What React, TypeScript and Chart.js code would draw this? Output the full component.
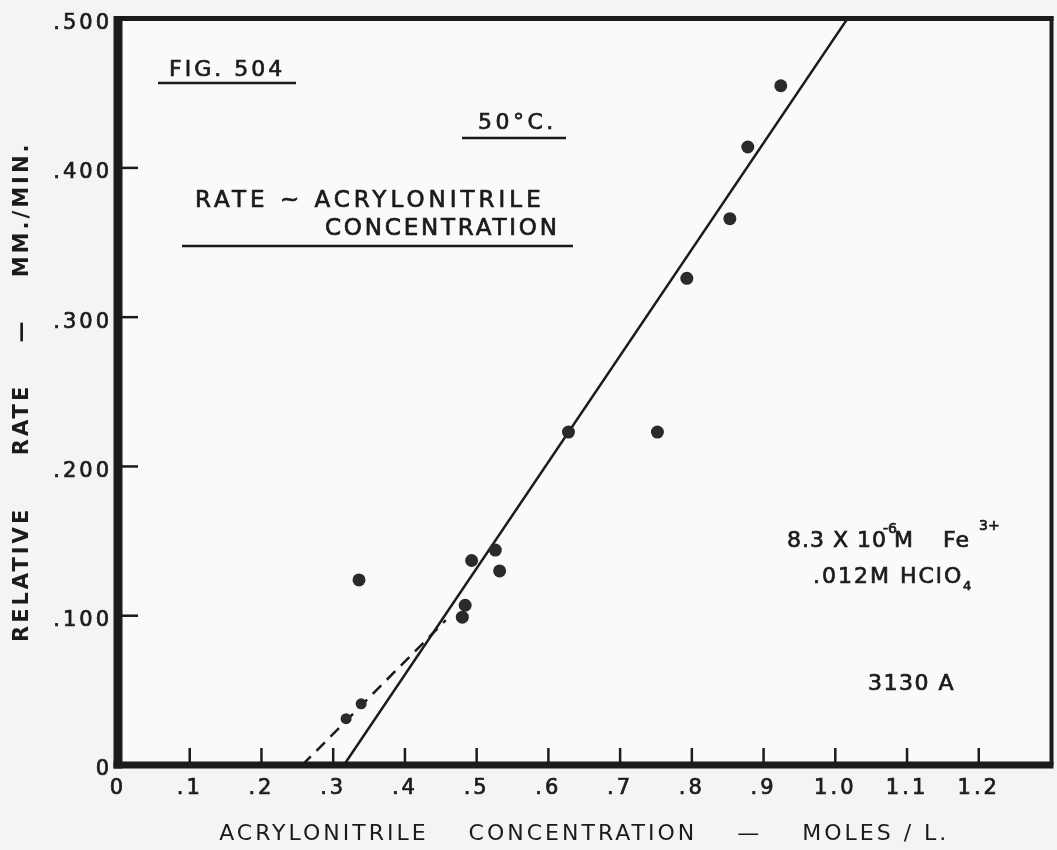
import React, { useEffect, useRef } from 'react';
import { Chart, registerables } from 'chart.js';

Chart.register(...registerables);

// Measured points: acrylonitrile concentration (moles/L) vs relative rate (mm./min.)
const concentration = [0.318, 0.339, 0.336, 0.48, 0.484, 0.493, 0.526, 0.532, 0.628, 0.752, 0.793, 0.853, 0.878, 0.924];
const relativeRate = [0.031, 0.041, 0.124, 0.099, 0.107, 0.137, 0.144, 0.13, 0.223, 0.223, 0.326, 0.366, 0.414, 0.455];

// Drawn straight line (solid) and dashed extrapolation
const solidFitX = [0.315, 1.017];
const solidFitY = [0, 0.5];
const dashedFitX = [0.257, 0.457];
const dashedFitY = [0, 0.097];

const xTickValues = [0, 0.1, 0.2, 0.3, 0.4, 0.5, 0.6, 0.7, 0.8, 0.9, 1.0, 1.1, 1.2];
const xTickLabels = ['0', '.1', '.2', '.3', '.4', '.5', '.6', '.7', '.8', '.9', '1.0', '1.1', '1.2'];
const yTickValues = [0, 0.1, 0.2, 0.3, 0.4, 0.5];
const yTickLabels = ['0', '.100', '.200', '.300', '.400', '.500'];

const xAxisTitle = 'ACRYLONITRILE    CONCENTRATION    —    MOLES / L.';
const yAxisTitle = 'RELATIVE     RATE    —    MM./MIN.';

const INK = '#1b1b1b';
const FONT = '"DejaVu Sans", sans-serif';

const toPoints = (xs: number[], ys: number[]) => xs.map((x, i) => ({ x, y: ys[i] }));

const paperPlugin = {
  id: 'paper',
  beforeDraw(chart: any) {
    const { ctx, chartArea: a, width, height } = chart;
    ctx.save();
    ctx.fillStyle = '#f4f4f4';
    ctx.fillRect(0, 0, width, height);
    ctx.fillStyle = '#fafafa';
    ctx.fillRect(a.left, a.top, a.right - a.left, a.bottom - a.top);
    ctx.restore();
    (ctx as any).letterSpacing = '3px';
  },
};

function seg(ctx: CanvasRenderingContext2D, x1: number, y1: number, x2: number, y2: number, w: number) {
  ctx.lineWidth = w;
  ctx.beginPath();
  ctx.moveTo(x1, y1);
  ctx.lineTo(x2, y2);
  ctx.stroke();
}

function txt(ctx: CanvasRenderingContext2D, s: string, x: number, y: number, size: number, spacing: number) {
  ctx.font = `${size}px ${FONT}`;
  (ctx as any).letterSpacing = `${spacing}px`;
  ctx.fillText(s, x, y);
  ctx.lineWidth = 0.7;
  ctx.strokeText(s, x, y);
}

const annotatePlugin = {
  id: 'annotate',
  afterDraw(chart: any) {
    const { ctx, chartArea: a, scales } = chart;
    const xs = scales.x;
    const ys = scales.y;
    ctx.save();
    ctx.fillStyle = INK;
    ctx.strokeStyle = INK;
    ctx.lineCap = 'butt';
    // inward tick marks
    xTickValues.forEach((v) => {
      if (v === 0) return;
      const px = xs.getPixelForValue(v);
      seg(ctx, px, a.bottom, px, a.bottom - 17, 2.5);
    });
    yTickValues.forEach((v) => {
      if (v === 0 || v === 0.5) return;
      const py = ys.getPixelForValue(v);
      seg(ctx, a.left, py, a.left + 20, py, 2.5);
    });
    // frame
    seg(ctx, a.left, a.top, a.right + 3, a.top, 5);
    seg(ctx, a.right + 1, a.top - 2.5, a.right + 1, a.bottom, 4);
    seg(ctx, a.left, a.top - 2.5, a.left, a.bottom + 3.5, 9);
    seg(ctx, a.left - 4.5, a.bottom, a.right + 3, a.bottom, 7);

    // annotations
    ctx.textAlign = 'left';
    ctx.textBaseline = 'alphabetic';
    txt(ctx, 'FIG. 504', 169, 76, 22, 3);
    seg(ctx, 158, 83, 296, 83, 2.5);
    txt(ctx, '50°C.', 478, 129, 22, 3.5);
    seg(ctx, 462, 138, 566, 138, 2.5);
    txt(ctx, 'RATE ~ ACRYLONITRILE', 195, 207, 23, 4);
    txt(ctx, 'CONCENTRATION', 325, 235, 23, 2.8);
    seg(ctx, 182, 246, 573, 246, 2.5);

    txt(ctx, '8.3 X 10', 787, 547, 22, 1);
    txt(ctx, '-6', 883, 533, 14, 0);
    txt(ctx, 'M', 894, 547, 22, 0);
    txt(ctx, 'Fe', 943, 547, 22, 1);
    txt(ctx, '3+', 979, 530, 14, 0);
    txt(ctx, '.012M HClO', 813, 583, 22, 2);
    txt(ctx, '4', 963, 590, 13, 0);
    txt(ctx, '3130 A', 868, 690, 22, 1.5);
    ctx.restore();
    (ctx as any).letterSpacing = '0px';
  },
};

export default function App() {
  const canvasRef = useRef<HTMLCanvasElement | null>(null);

  useEffect(() => {
    const canvas = canvasRef.current;
    if (!canvas) return;
    const chart = new Chart(canvas, {
      type: 'scatter',
      data: {
        datasets: [
          {
            label: 'Fitted line',
            data: toPoints(solidFitX, solidFitY),
            showLine: true,
            borderColor: INK,
            borderWidth: 2.5,
            pointRadius: 0,
            order: 3,
          },
          {
            label: 'Extrapolation',
            data: toPoints(dashedFitX, dashedFitY),
            showLine: true,
            borderColor: INK,
            borderWidth: 2.5,
            borderDash: [12, 8],
            pointRadius: 0,
            order: 2,
          },
          {
            label: 'Relative rate',
            data: toPoints(concentration, relativeRate),
            backgroundColor: '#2a2a2a',
            borderWidth: 0,
            pointRadius: (c: any) => (c.dataIndex < 2 ? 5.5 : 6.5),
            order: 1,
          },
        ],
      },
      options: {
        animation: false,
        responsive: false,
        maintainAspectRatio: false,
        layout: { padding: { top: 18, right: 3, left: 0, bottom: 0 } },
        plugins: { legend: { display: false }, tooltip: { enabled: false } },
        scales: {
          x: {
            type: 'linear',
            min: 0,
            max: 1.3,
            afterFit: (s: any) => {
              s.height = 85;
            },
            afterBuildTicks: (s: any) => {
              s.ticks = xTickValues.map((v) => ({ value: v }));
            },
            grid: { display: false, drawTicks: false },
            border: { display: false },
            ticks: {
              autoSkip: false,
              maxRotation: 0,
              padding: 11,
              color: INK,
              textStrokeColor: INK,
              textStrokeWidth: 0.7,
              font: { family: FONT, size: 21 },
              callback: (_v: any, i: number) => xTickLabels[i],
            },
            title: {
              display: true,
              text: xAxisTitle,
              color: INK,
              font: { family: FONT, size: 22 },
              padding: { top: 0, bottom: 3 },
            },
          },
          y: {
            type: 'linear',
            min: 0,
            max: 0.5,
            afterFit: (s: any) => {
              s.width = 118;
            },
            afterBuildTicks: (s: any) => {
              s.ticks = yTickValues.map((v) => ({ value: v }));
            },
            grid: { display: false, drawTicks: false },
            border: { display: false },
            ticks: {
              padding: 6,
              labelOffset: 5,
              color: INK,
              textStrokeColor: INK,
              textStrokeWidth: 0.7,
              font: { family: FONT, size: 21 },
              callback: (_v: any, i: number) => yTickLabels[i],
            },
            title: {
              display: true,
              text: yAxisTitle,
              color: INK,
              font: { family: FONT, size: 21, weight: 'bold' },
              padding: { top: 10, bottom: 0 },
            },
          },
        },
      },
      plugins: [paperPlugin, annotatePlugin],
    } as any);
    return () => chart.destroy();
  }, []);

  return (
    <div style={{ position: 'absolute', left: 0, top: 0, width: 1057, height: 850 }}>
      <canvas ref={canvasRef} width={1057} height={850} style={{ display: 'block' }} />
    </div>
  );
}
